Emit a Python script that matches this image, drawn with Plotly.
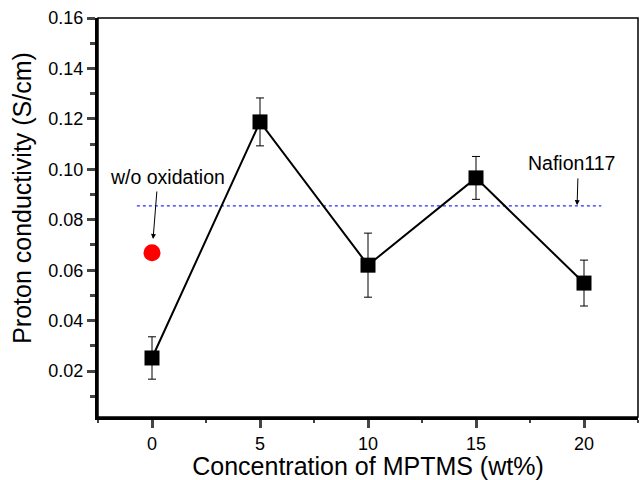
import plotly.graph_objects as go

# MPTMS loading (wt%) and measured proton conductivity (S/cm)
mptms_wt = [0, 5, 10, 15, 20]
conductivity = [0.0252, 0.1188, 0.0620, 0.0966, 0.0549]
conductivity_err = [0.0084, 0.0095, 0.0127, 0.0085, 0.0091]

# Sample without oxidation
unoxidized_x = [0]
unoxidized_y = [0.0669]

# Nafion117 reference level
nafion_x = [-0.7, 20.8]
nafion_level = 0.0855

x_ticks = [0, 5, 10, 15, 20]
y_ticks = [0.02, 0.04, 0.06, 0.08, 0.10, 0.12, 0.14, 0.16]

FONT = "Liberation Sans, Arial, Helvetica, sans-serif"

fig = go.Figure()

fig.add_trace(go.Scatter(
    x=nafion_x, y=[nafion_level, nafion_level], mode="lines",
    line=dict(color="#2a2aff", width=1.1, dash="dot"),
    showlegend=False, hoverinfo="skip"))

fig.add_trace(go.Scatter(
    x=mptms_wt, y=conductivity, mode="lines+markers",
    line=dict(color="black", width=2),
    marker=dict(symbol="square", size=15, color="black"),
    error_y=dict(type="data", array=conductivity_err, visible=True,
                 color="black", thickness=1, width=4),
    showlegend=False))

fig.add_trace(go.Scatter(
    x=unoxidized_x, y=unoxidized_y, mode="markers",
    marker=dict(symbol="circle", size=17, color="#ff0000"),
    showlegend=False))

# Labels with arrows
fig.add_annotation(x=0.05, y=0.0724, ax=0.23, ay=0.0918, axref="x", ayref="y",
                   text="", showarrow=True, arrowhead=2, arrowsize=1,
                   arrowwidth=1, arrowcolor="black")
fig.add_annotation(x=0.74, y=0.0970, text="w/o oxidation", showarrow=False,
                   font=dict(family=FONT, size=19.5, color="black"))
fig.add_annotation(x=19.68, y=0.0858, ax=19.72, ay=0.0970, axref="x", ayref="y",
                   text="", showarrow=True, arrowhead=2, arrowsize=1,
                   arrowwidth=1, arrowcolor="black")
fig.add_annotation(x=19.4, y=0.1025, text="Nafion117", showarrow=False,
                   font=dict(family=FONT, size=19.5, color="black"))

# Vertical axis title
fig.add_annotation(xref="paper", yref="paper", x=-0.142, y=0.55,
                   xanchor="center", yanchor="middle", textangle=-90,
                   text="Proton conductivity (S/cm)", showarrow=False,
                   font=dict(family=FONT, size=25, color="black"))

# Thin frame on top and right
fig.add_shape(type="rect", xref="paper", yref="paper", x0=0, y0=0, x1=1, y1=1,
              line=dict(color="black", width=1.5), layer="below")

fig.update_layout(
    width=640, height=480,
    margin=dict(l=98, r=2, t=18, b=63),
    plot_bgcolor="white", paper_bgcolor="white",
    font=dict(family=FONT, size=18, color="black"),
    xaxis=dict(
        range=[-2.5, 22.5], tickvals=x_ticks, ticks="outside", ticklen=8,
        tickwidth=2.5, showline=True, linewidth=3, linecolor="black",
        showgrid=False, zeroline=False,
        minor=dict(dtick=2.5, ticks="outside", ticklen=3, tickwidth=1.5,
                   tick0=0),
        title=dict(text="Concentration of MPTMS (wt%)",
                   font=dict(size=25), standoff=6),
        tickfont=dict(size=18)),
    yaxis=dict(
        range=[0.0018, 0.16], tickvals=y_ticks,
        ticktext=[f"{v:.2f}" for v in y_ticks], ticks="outside",
        ticklen=8, tickwidth=2.5, showline=True, linewidth=3,
        linecolor="black", showgrid=False, zeroline=False,
        minor=dict(dtick=0.01, tick0=0, ticks="outside", ticklen=5,
                   tickwidth=2.5),
        tickfont=dict(size=18)),
)

fig.write_html("out.html")
